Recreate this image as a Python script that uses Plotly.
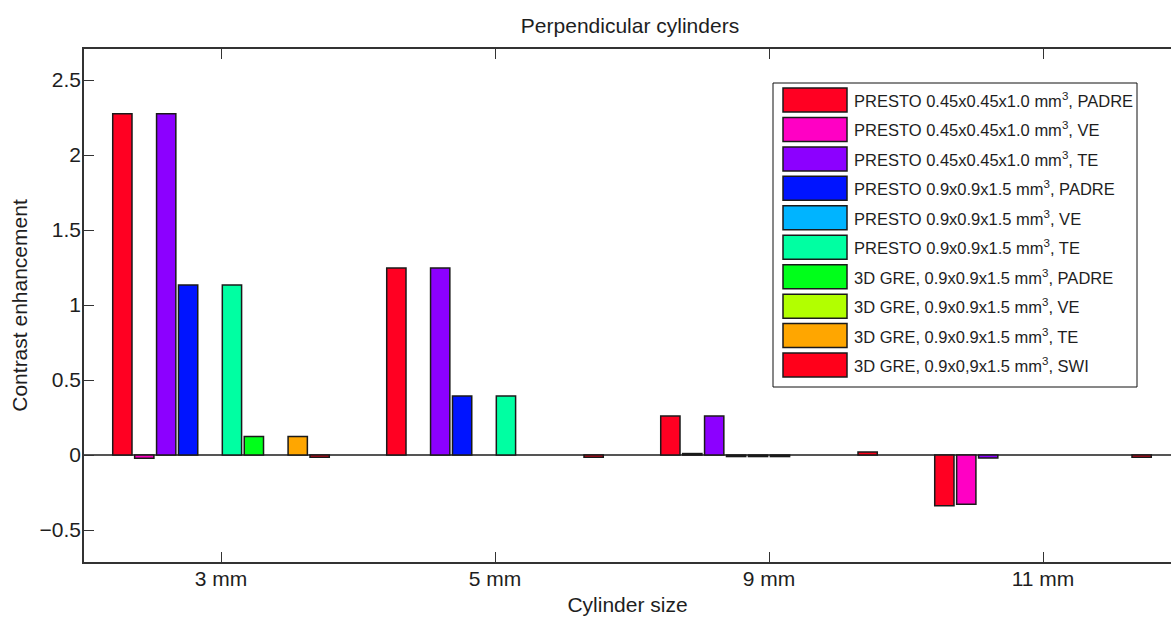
import plotly.graph_objects as go

categories = ["3 mm", "5 mm", "9 mm", "11 mm"]

series_names = [
    "PRESTO 0.45x0.45x1.0 mm<sup>3</sup>, PADRE",
    "PRESTO 0.45x0.45x1.0 mm<sup>3</sup>, VE",
    "PRESTO 0.45x0.45x1.0 mm<sup>3</sup>, TE",
    "PRESTO 0.9x0.9x1.5 mm<sup>3</sup>, PADRE",
    "PRESTO 0.9x0.9x1.5 mm<sup>3</sup>, VE",
    "PRESTO 0.9x0.9x1.5 mm<sup>3</sup>, TE",
    "3D GRE, 0.9x0.9x1.5 mm<sup>3</sup>, PADRE",
    "3D GRE, 0.9x0.9x1.5 mm<sup>3</sup>, VE",
    "3D GRE, 0.9x0.9x1.5 mm<sup>3</sup>, TE",
    "3D GRE, 0.9x0,9x1.5 mm<sup>3</sup>, SWI",
]

colors = ["#ff0022", "#ff00c4", "#8c00ff", "#0014ff", "#00b4ff",
          "#00ffa2", "#00ff1a", "#b2ff00", "#ffa600", "#ff001a"]

presto045_padre = [2.275, 1.247, 0.26, -0.338]
presto045_ve = [-0.022, 0.0, 0.01, -0.328]
presto045_te = [2.275, 1.247, 0.26, -0.02]
presto09_padre = [1.133, 0.393, -0.01, 0.0]
presto09_ve = [0.0, 0.0, -0.01, 0.0]
presto09_te = [1.133, 0.393, -0.01, 0.0]
gre_padre = [0.123, 0.0, 0.0, 0.0]
gre_ve = [0.0, 0.0, 0.0, 0.0]
gre_te = [0.123, 0.0, 0.0, 0.0]
gre_swi = [-0.015, -0.015, 0.02, -0.015]

series_values = [presto045_padre, presto045_ve, presto045_te, presto09_padre,
                 presto09_ve, presto09_te, gre_padre, gre_ve, gre_te, gre_swi]

y_ticks = [-0.5, 0, 0.5, 1, 1.5, 2, 2.5]
y_ticktext = ["\u22120.5", "0", "0.5", "1", "1.5", "2", "2.5"]

FONT = "Liberation Sans, Arial, sans-serif"
TXT = "#1e1e1e"
FS = 21
W, H = 1171, 617
L, R, T, B = 84, 0, 49, 55
PW, PH = W - L - R, H - T - B
PX_PER_CAT = 274.0
Y_RANGE = [-0.713, 2.707]

fig = go.Figure()
for name, col, vals in zip(series_names, colors, series_values):
    fig.add_bar(x=categories, y=vals, name=name, showlegend=False,
                marker=dict(color=col,
                            line=dict(color="#1a1a1a",
                                      width=[0 if v == 0 else 1.5 for v in vals])))


def pp(x, y):
    return (x - L) / PW, (H - B - y) / PH


# custom legend (MATLAB style, wide swatches)
shapes = []
annotations = []
bx0, by0 = pp(773, 83)
bx1, by1 = pp(1137, 387)
shapes.append(dict(type="rect", xref="paper", yref="paper", x0=bx0, x1=bx1,
                   y0=by1, y1=by0, line=dict(color="#111", width=1),
                   fillcolor="white", layer="above"))
for i, (name, col) in enumerate(zip(series_names, colors)):
    cy = 100 + i * 29.45
    sx0, sy0 = pp(783, cy - 12)
    sx1, sy1 = pp(847, cy + 12)
    shapes.append(dict(type="rect", xref="paper", yref="paper", x0=sx0, x1=sx1,
                       y0=sy1, y1=sy0, line=dict(color="#1a1a1a", width=1.5),
                       fillcolor=col, layer="above"))
    tx, ty = pp(852, cy)
    annotations.append(dict(xref="paper", yref="paper", x=tx, y=ty, text=name,
                            xanchor="left", yanchor="middle", showarrow=False,
                            font=dict(family=FONT, size=16.5, color=TXT)))

fig.update_layout(
    width=W, height=H,
    margin=dict(l=L, r=R, t=T, b=B, pad=0),
    paper_bgcolor="white", plot_bgcolor="white",
    barmode="group", bargap=0.2, bargroupgap=0.12,
    font=dict(family=FONT, size=FS, color=TXT),
    title=dict(text="Perpendicular cylinders", x=(630 - L) / PW, xref="paper",
               xanchor="center", y=1 - 26 / H, yref="container", yanchor="middle",
               font=dict(family=FONT, size=FS, color=TXT)),
    shapes=shapes,
    annotations=annotations,
    yaxis2=dict(overlaying="y", side="right", anchor="x", range=Y_RANGE,
                tickmode="array", tickvals=y_ticks, showticklabels=False,
                ticks="inside", ticklen=3, tickcolor="#333", tickwidth=1,
                showline=False, showgrid=False, zeroline=False),
)

fig.update_xaxes(
    range=[-0.5, -0.5 + PW / PX_PER_CAT],
    showline=True, linecolor="#333", linewidth=1.5, mirror="ticks",
    ticks="inside", ticklen=10, tickcolor="#333", tickwidth=1,
    showgrid=False, zeroline=False,
    tickfont=dict(family=FONT, size=FS, color=TXT),
    ticklabelstandoff=-3,
    title=dict(text="Cylinder size", standoff=8,
               font=dict(family=FONT, size=FS, color=TXT)),
)
fig.layout.yaxis.update(
    range=Y_RANGE,
    tickmode="array", tickvals=y_ticks, ticktext=y_ticktext,
    showline=True, linecolor="#333", linewidth=1.5, mirror=False,
    ticks="inside", ticklen=10, tickcolor="#333", tickwidth=1,
    showgrid=False, zeroline=True, zerolinecolor="#555", zerolinewidth=1.5,
    tickfont=dict(family=FONT, size=FS, color=TXT),
    ticklabelstandoff=-3,
    title=dict(text="Contrast enhancement", standoff=6,
               font=dict(family=FONT, size=FS, color=TXT)),
)

fig.write_html("out.html")
